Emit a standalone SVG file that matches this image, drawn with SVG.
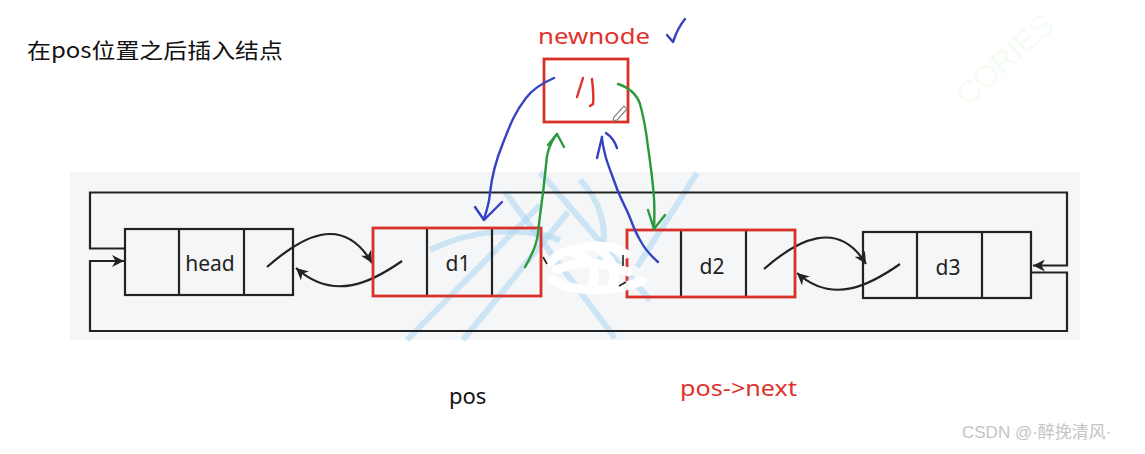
<svg xmlns="http://www.w3.org/2000/svg" width="1145" height="454" viewBox="0 0 1145 454">
<style>
.ln{fill:none;stroke:#222;stroke-width:2.2}
.box{fill:none;stroke:#222;stroke-width:2.2}
.rbox{fill:none;stroke:#d9302a;stroke-width:2.8}
.lbl{font-family:"Noto Sans","Open Sans",sans-serif;font-size:21px;fill:#222;text-anchor:middle}
.blue{fill:none;stroke:#3443c2;stroke-width:2.4;stroke-linecap:round;stroke-linejoin:round}
.green{fill:none;stroke:#2a9a3c;stroke-width:2.4;stroke-linecap:round;stroke-linejoin:round}
.red{fill:none;stroke:#e0322b;stroke-width:2.4;stroke-linecap:round}
.wm{fill:none;stroke:#a9d6f0;stroke-width:6;opacity:0.55}
.erase{fill:none;stroke:#ffffff;stroke-width:9;stroke-linecap:round;opacity:0.95}
</style>
<defs>
<marker id="arr" markerWidth="12" markerHeight="12" refX="10" refY="5" orient="auto" markerUnits="userSpaceOnUse" viewBox="0 0 10 10">
<path d="M0,0 L10,5 L0,10 L3,5 z" fill="#222"/>
</marker>
</defs>
<rect width="1145" height="454" fill="#ffffff"/>
<rect x="70" y="172" width="1010" height="168" fill="#f5f6f8"/>
<g id="watermark">
<path class="wm" d="M407,340 L540,205"/>
<path class="wm" d="M463,340 L568,212"/>
<path class="wm" d="M505,192 L615,338"/>
<path class="wm" d="M540,172 L650,300"/>
<path class="wm" d="M697,173 L637,267"/>
<path class="wm" d="M430,250 C 470,230 520,225 560,240"/>
<path class="wm" d="M580,180 C 600,200 610,230 600,260"/>
<text x="1005" y="70" transform="rotate(-42 1005 60)" font-family="Liberation Sans, sans-serif" font-size="31" fill="#f5fcf3" text-anchor="middle">CORIES</text>
</g>
<text x="27" y="58" font-family="'Noto Sans CJK SC', sans-serif" font-size="21" fill="#111" textLength="256" lengthAdjust="spacingAndGlyphs">在pos位置之后插入结点</text>
<g id="connectors">
<path class="ln" d="M125,248.5 L90,248.5 L90,192.5 L1067,192.5 L1067,265.5 L1033,265.5" marker-end="url(#arr)"/>
<path class="ln" d="M1031,272.5 L1067,272.5 L1067,331 L90,331 L90,261 L124,261" marker-end="url(#arr)"/>
<path class="ln" d="M267,267 C 300,238 342,212 372,263" marker-end="url(#arr)"/>
<path class="ln" d="M402,261 C 372,282 334,302 296,268" marker-end="url(#arr)"/>
<path class="ln" d="M764,269 C 797,240 838,218 866,264" marker-end="url(#arr)"/>
<path class="ln" d="M900,264 C 870,285 833,305 797,273" marker-end="url(#arr)"/>
</g>
<g id="node-head">
<rect class="box" x="125" y="229" width="168" height="66"/>
<path class="ln" d="M179,229 V295 M244,229 V295"/>
<text class="lbl" x="210" y="271">head</text>
</g>
<g id="node-d1">
<path class="ln" d="M427,228 V296 M492,228 V296"/>
<rect class="rbox" x="373" y="228" width="168" height="68"/>
<text class="lbl" x="458" y="271">d1</text>
</g>
<g id="node-d2">
<path class="ln" d="M681,230 V297 M746,230 V297"/>
<rect class="rbox" x="627" y="230" width="168" height="67"/>
<text class="lbl" x="712" y="274">d2</text>
</g>
<g id="node-d3">
<rect class="box" x="863" y="232" width="168" height="66"/>
<path class="ln" d="M917,232 V298 M982,232 V298"/>
<text class="lbl" x="948" y="275">d3</text>
</g>
<g id="erasure">
<path class="erase" d="M550,262 C 566,246 606,240 626,254"/>
<path class="erase" d="M552,280 C 576,294 614,292 642,281"/>
<path class="erase" d="M556,270 C 580,260 606,262 628,272"/>
<path class="erase" d="M572,252 C 590,258 600,270 592,286"/>
<path class="erase" d="M600,250 C 615,262 618,275 610,288"/>
<path d="M543,257 L547,264 M623,255 L623,266 M619,286 L626,282" stroke="#222" stroke-width="1.6" fill="none"/>
</g>
<g id="node-newnode">
<rect x="544" y="59" width="84" height="63" fill="none" stroke="#d9302a" stroke-width="2.8"/>
<path class="red" d="M583,78 L577,97"/>
<path class="red" d="M592,79 C 593,88 594,97 593,104 L590,106"/>
<path d="M614,117 L624,106 L627,109 L617,120 L613,121 Z" fill="#fff" stroke="#888" stroke-width="1.2"/>
<text x="538" y="44" font-family="'Noto Sans', 'Liberation Sans', sans-serif" font-size="21" fill="#e0322b" textLength="112" lengthAdjust="spacingAndGlyphs">newnode</text>
<path class="blue" d="M667,35 L673,42 C 676,33 680,25 685,19" stroke-width="3"/>
</g>
<g id="hand-arrows">
<path class="blue" d="M554,78 C 540,84 532,90 526,98 C 515,112 510,125 503,143 C 496,160 492,175 490,193 C 489,205 486,212 484,219"/>
<path class="blue" d="M475,207 L484,220 L502,202"/>
<path class="green" d="M525,267 C 532,255 537,245 538,233 C 540,215 542,200 543,193 C 545,175 546,165 547,156 C 549,146 552,140 557,134"/>
<path class="green" d="M548,145 L557,134 L564,147"/>
<path class="blue" d="M658,262 C 650,255 645,250 640,240 C 634,230 632,222 628,213 C 622,200 619,195 616,186 C 612,175 608,165 606,158 C 604,150 602,143 602,137"/>
<path class="blue" d="M597,158 L602,137"/>
<path class="blue" d="M606,133 C 612,137 615,142 617,148"/>
<path class="green" d="M618,84 C 630,88 637,95 640,104 C 644,118 646,130 648,147 C 650,160 651,170 652,177 C 654,195 655,205 654,229"/>
<path class="green" d="M648,210 L654,229 L665,215"/>
</g>
<text x="449" y="404" font-family="'Noto Sans', 'Liberation Sans', sans-serif" font-size="22" fill="#111">pos</text>
<text x="680" y="396" font-family="'Noto Sans', 'Liberation Sans', sans-serif" font-size="22" fill="#e0322b" textLength="117" lengthAdjust="spacingAndGlyphs">pos-&gt;next</text>
<text x="962" y="438" font-family="'Liberation Sans', 'Noto Sans CJK SC', sans-serif" font-size="17" fill="#c4c4c4">CSDN @·醉挽清风·</text>
</svg>
